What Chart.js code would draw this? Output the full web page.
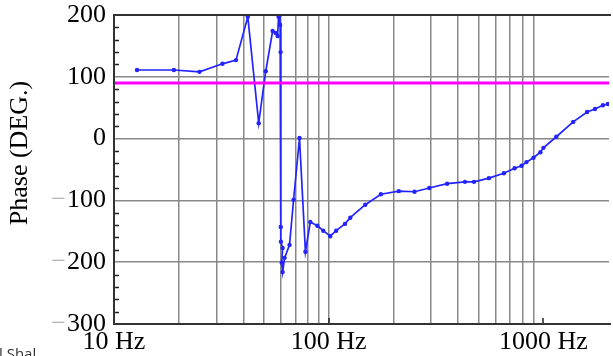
<!DOCTYPE html>
<html lang="en">
<head>
    <meta charset="UTF-8">
    <title>Phase</title>
    <script src="https://cdn.jsdelivr.net/npm/chart.js"></script>
    <style>
        html, body {
            margin: 0;
            padding: 0;
            background: #ffffff;
            overflow: hidden;
        }

        #wrap {
            position: relative;
            width: 613px;
            height: 356px;
        }

        .cut-note {
            position: absolute;
            left: -1px;
            top: 346px;
            font-family: "Open Sans", sans-serif;
            font-size: 15px;
            line-height: 15px;
            color: #333;
            white-space: nowrap;
        }
    </style>
</head>
<body>
    <div id="wrap">
        <canvas id="phase-chart"></canvas>
        <div class="cut-note">l Shal</div>
    </div>
    <script>
        // Measured phase response
        const freqHz = [12.8, 19, 25, 32, 37, 42, 47.2, 50.9, 54.8, 56.6, 57.8, 58.4, 59.1, 59.4, 59.7,
            59.8, 59.9, 61.0, 60.4, 61.0, 62.3, 65.7, 68.6, 73.1, 77.9, 82.1, 88.5, 94.3, 101.6, 108.3,
            119, 126, 148, 175, 212, 251, 294, 356, 431, 475, 557, 654, 734, 791, 834, 899, 968, 1000,
            1148, 1376, 1597, 1738, 1892, 1996];
        const phaseDeg = [111, 111, 108, 121, 127, 197, 25, 109, 174, 171, 166, 197, 200, 184, 140,
            -143, -167, -177, -201, -216, -193, -172, -99, 1, -183, -135, -141, -149, -158, -149,
            -138, -128, -107, -90, -85, -86, -80, -73, -70, -70, -64, -56, -48, -44, -38, -31, -22, -15,
            3, 27, 43, 48, 54, 56];

        // Reference level
        const refPhase = 90;

        // Axes
        const freqMin = 10;
        const freqMax = 2020;
        const freqGrid = [10, 20, 30, 40, 50, 60, 70, 80, 90, 100, 200, 300, 400, 500, 600, 700, 800, 900, 1000];
        const freqTickValues = [10, 100, 1000];
        const freqTickLabels = ['10 Hz', '100 Hz', '1000 Hz'];
        const phaseTicks = [200, 100, 0, -100, -200, -300];
        const phaseMin = -300;
        const phaseMax = 200;

        const serif = '"Liberation Serif", "Times New Roman", serif';

        // Frame, inner tick marks, y labels (grey minus sign) and y title
        const framePlugin = {
            id: 'framePlugin',
            afterDraw(chart) {
                const { ctx, chartArea: a, scales: { x, y } } = chart;
                ctx.save();

                ctx.strokeStyle = '#222';
                ctx.lineWidth = 1.5;
                ctx.beginPath();
                for (let v = phaseMin + 20; v < phaseMax; v += 20) {
                    if (v % 100 === 0) continue;
                    const py = Math.round(y.getPixelForValue(v)) + 0.5;
                    ctx.moveTo(a.left, py);
                    ctx.lineTo(a.left + 5, py);
                }
                freqTickValues.forEach(f => {
                    const px = Math.round(x.getPixelForValue(f));
                    ctx.moveTo(px, a.bottom);
                    ctx.lineTo(px, a.bottom - 6);
                });
                ctx.stroke();

                ctx.strokeStyle = '#333';
                ctx.lineWidth = 2;
                ctx.beginPath();
                ctx.moveTo(a.right + 2, a.top);
                ctx.lineTo(a.left, a.top);
                ctx.lineTo(a.left, a.bottom);
                ctx.lineTo(a.right + 2, a.bottom);
                ctx.stroke();

                ctx.font = '26px ' + serif;
                ctx.textBaseline = 'middle';
                ctx.textAlign = 'right';
                phaseTicks.forEach(v => {
                    const py = y.getPixelForValue(v);
                    const digits = String(Math.abs(v));
                    const right = a.left - 8;
                    ctx.fillStyle = '#000';
                    ctx.fillText(digits, right, py);
                    if (v < 0) {
                        const w = ctx.measureText(digits).width;
                        ctx.fillStyle = '#b4b4b4';
                        ctx.fillText('\u2212', right - w - 1, py);
                    }
                });

                ctx.font = '26px ' + serif;
                ctx.translate(20, 153);
                ctx.rotate(-Math.PI / 2);
                ctx.textAlign = 'center';
                ctx.fillStyle = '#000';
                ctx.fillText('Phase (DEG.)', 0, 0);

                ctx.restore();
            }
        };

        const points = freqHz.map((f, i) => ({ x: f, y: phaseDeg[i] }));

        new Chart(document.getElementById('phase-chart'), {
            type: 'line',
            data: {
                datasets: [
                    {
                        label: 'Reference',
                        data: [{ x: freqMin, y: refPhase }, { x: freqMax, y: refPhase }],
                        borderColor: '#ff00ff',
                        borderWidth: 3,
                        pointRadius: 0
                    },
                    {
                        label: 'Phase',
                        data: points,
                        borderColor: 'rgb(35,35,255)',
                        backgroundColor: 'rgb(35,35,255)',
                        borderWidth: 1.7,
                        pointRadius: 2.2,
                        pointBorderWidth: 0,
                        tension: 0
                    }
                ]
            },
            options: {
                responsive: true,
                maintainAspectRatio: false,
                animation: false,
                layout: { padding: { top: 15, right: 0, bottom: 0, left: 0 } },
                plugins: {
                    legend: { display: false },
                    tooltip: { enabled: false }
                },
                scales: {
                    x: {
                        type: 'logarithmic',
                        min: freqMin,
                        max: freqMax,
                        afterBuildTicks: s => { s.ticks = freqGrid.map(v => ({ value: v })); },
                        afterFit: s => {
                            s.height = 32;
                            s.paddingLeft = 0;
                            s.paddingRight = 0;
                        },
                        border: { display: false },
                        grid: {
                            color: c => (c.tick && (c.tick.value === 10 || c.tick.value === 1000)) ? 'rgba(0,0,0,0)' : '#888888',
                            lineWidth: 1.5,
                            drawTicks: false
                        },
                        ticks: {
                            autoSkip: false,
                            maxRotation: 0,
                            padding: 3,
                            color: '#000',
                            font: { family: serif, size: 26, lineHeight: 1.2 },
                            callback: v => {
                                const i = freqTickValues.indexOf(v);
                                return i >= 0 ? freqTickLabels[i] : '';
                            }
                        }
                    },
                    y: {
                        type: 'linear',
                        min: phaseMin,
                        max: phaseMax,
                        afterFit: s => {
                            s.width = 114;
                            s.paddingTop = 0;
                            s.paddingBottom = 0;
                        },
                        border: { display: false },
                        grid: {
                            color: c => (c.tick && (c.tick.value === phaseMin || c.tick.value === phaseMax)) ? 'rgba(0,0,0,0)' : '#888888',
                            lineWidth: 1.5,
                            drawTicks: false
                        },
                        ticks: {
                            stepSize: 100,
                            padding: 0,
                            callback: () => ''
                        }
                    }
                }
            },
            plugins: [framePlugin]
        });
    </script>
</body>
</html>
